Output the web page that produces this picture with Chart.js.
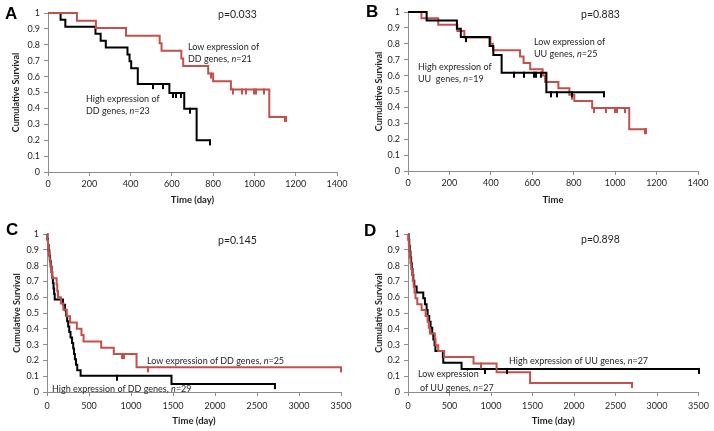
<!DOCTYPE html>
<html>
<head>
<meta charset="utf-8">
<script src="https://cdn.jsdelivr.net/npm/chart.js@4.4.1/dist/chart.umd.min.js"></script>
<style>
  html, body { margin: 0; padding: 0; background: #fff; }
  body { width: 714px; height: 431px; position: relative; overflow: hidden; font-family: Lato, "Open Sans", sans-serif; }
  canvas { position: absolute; }
  .t { position: absolute; white-space: nowrap; color: #1f1f1f; font-family: Lato, sans-serif; font-size: 9px; line-height: 11px; }
  .p { font-size: 10.5px; line-height: 12px; }
  .L { position: absolute; font-family: "Liberation Sans", Arial, sans-serif; font-weight: bold; font-size: 17px; line-height: 17px; color: #000; }
</style>
</head>
<body>
<canvas id="cA" width="357" height="215" style="left:0;top:0"></canvas>
<canvas id="cB" width="357" height="215" style="left:357px;top:0"></canvas>
<canvas id="cC" width="357" height="216" style="left:0;top:215px"></canvas>
<canvas id="cD" width="357" height="216" style="left:357px;top:215px"></canvas>

<div class="L" style="left:5px;top:5px">A</div>
<div class="L" style="left:366px;top:3px">B</div>
<div class="L" style="left:6px;top:221px">C</div>
<div class="L" style="left:364px;top:222px">D</div>

<div class="t p" style="left:218px;top:8px">p=0.033</div>
<div class="t" style="left:188px;top:41px">Low expression of</div>
<div class="t" style="left:188px;top:53px">DD genes, <i>n</i>=21</div>
<div class="t" style="left:86px;top:93px">High expression of</div>
<div class="t" style="left:86px;top:105px">DD genes, <i>n</i>=23</div>

<div class="t p" style="left:581px;top:8px">p=0.883</div>
<div class="t" style="left:534px;top:36px">Low expression of</div>
<div class="t" style="left:534px;top:48px">UU genes, <i>n</i>=25</div>
<div class="t" style="left:418px;top:61px">High expression of</div>
<div class="t" style="left:418px;top:73px">UU&nbsp; genes, <i>n</i>=19</div>

<div class="t p" style="left:218px;top:234px">p=0.145</div>
<div class="t" style="left:147px;top:355px">Low expression of DD genes, <i>n</i>=25</div>
<div class="t" style="left:52px;top:383px">High expression of DD genes, <i>n</i>=29</div>

<div class="t p" style="left:581px;top:233px">p=0.898</div>
<div class="t" style="left:509px;top:355px">High expression of UU genes, <i>n</i>=27</div>
<div class="t" style="left:418px;top:368px">Low expression</div>
<div class="t" style="left:420px;top:382px">of UU genes, <i>n</i>=27</div>

<script>
// ---------- DATA ----------
// Panel A : DD genes
const A_high_t = [0, 61, 84, 230, 255, 280, 385, 395, 403, 435, 588, 660, 720, 787];
const A_high_s = [1, 0.957, 0.913, 0.870, 0.826, 0.783, 0.739, 0.696, 0.652, 0.553, 0.497, 0.398, 0.199, 0.199];
const A_high_cens_t = [510, 557, 605, 622, 645, 688, 787];
const A_high_cens_s = [0.553, 0.553, 0.497, 0.497, 0.497, 0.398, 0.199];
const A_low_t = [0, 140, 232, 378, 541, 550, 646, 655, 776, 800, 886, 1072, 1155];
const A_low_s = [1, 0.952, 0.905, 0.857, 0.810, 0.762, 0.714, 0.667, 0.619, 0.571, 0.519, 0.346, 0.346];
const A_low_cens_t = [790, 898, 942, 958, 1000, 1010, 1047, 1148, 1155];
const A_low_cens_s = [0.619, 0.519, 0.519, 0.519, 0.519, 0.519, 0.519, 0.346, 0.346];

// Panel B : UU genes
const B_high_t = [0, 90, 236, 255, 394, 412, 452, 668, 947];
const B_high_s = [1, 0.947, 0.895, 0.842, 0.786, 0.730, 0.618, 0.495, 0.495];
const B_high_cens_t = [282, 513, 561, 610, 617, 640, 692, 721, 794, 947];
const B_high_cens_s = [0.842, 0.618, 0.618, 0.618, 0.618, 0.618, 0.495, 0.495, 0.495, 0.495];
const B_low_t = [0, 65, 146, 238, 272, 398, 410, 541, 558, 590, 650, 662, 726, 779, 803, 889, 1068, 1151];
const B_low_s = [1, 0.96, 0.92, 0.88, 0.84, 0.80, 0.76, 0.72, 0.68, 0.64, 0.60, 0.56, 0.52, 0.48, 0.44, 0.396, 0.263, 0.263];
const B_low_cens_t = [791, 900, 958, 1000, 1008, 1046, 1146, 1151];
const B_low_cens_s = [0.48, 0.396, 0.396, 0.396, 0.396, 0.396, 0.263, 0.263];

// Panel C : DD genes (long follow-up)
const C_high_t = [0, 5, 12, 20, 28, 36, 45, 55, 62, 70, 78, 85, 92, 190, 215, 228, 240, 252, 265, 280, 298, 312, 322, 332, 345, 360, 400, 1482, 2717];
const C_high_s = [1, 0.966, 0.931, 0.897, 0.862, 0.828, 0.793, 0.759, 0.724, 0.690, 0.655, 0.621, 0.586, 0.552, 0.517, 0.483, 0.448, 0.414, 0.379, 0.345, 0.310, 0.276, 0.241, 0.207, 0.172, 0.138, 0.103, 0.050, 0.050];
const C_high_cens_t = [835, 2717];
const C_high_cens_s = [0.103, 0.050];
const C_low_t = [0, 5, 12, 20, 30, 40, 50, 62, 115, 122, 131, 165, 195, 235, 275, 355, 410, 435, 645, 795, 1066, 3500];
const C_low_s = [1, 0.96, 0.92, 0.88, 0.84, 0.80, 0.76, 0.72, 0.68, 0.64, 0.60, 0.56, 0.52, 0.48, 0.44, 0.40, 0.36, 0.32, 0.28, 0.24, 0.156, 0.156];
const C_low_cens_t = [887, 915, 1203, 3497];
const C_low_cens_s = [0.24, 0.24, 0.156, 0.156];

// Panel D : UU genes (long follow-up)
const D_high_t = [0, 8, 15, 22, 30, 38, 46, 55, 64, 76, 104, 184, 204, 224, 236, 256, 272, 292, 305, 320, 330, 420, 425, 645, 3500];
const D_high_s = [1, 0.963, 0.926, 0.889, 0.852, 0.815, 0.778, 0.741, 0.704, 0.667, 0.630, 0.593, 0.556, 0.519, 0.481, 0.444, 0.407, 0.370, 0.333, 0.296, 0.259, 0.222, 0.185, 0.146, 0.146];
const D_high_cens_t = [923, 1190, 3500];
const D_high_cens_s = [0.146, 0.146, 0.146];
const D_low_t = [0, 5, 10, 16, 22, 30, 38, 48, 58, 68, 78, 90, 112, 164, 212, 236, 250, 264, 324, 332, 364, 436, 789, 1067, 1471, 2700];
const D_low_s = [1, 0.963, 0.926, 0.889, 0.852, 0.815, 0.778, 0.741, 0.704, 0.667, 0.630, 0.593, 0.556, 0.519, 0.481, 0.444, 0.407, 0.370, 0.333, 0.296, 0.259, 0.222, 0.180, 0.125, 0.057, 0.057];
const D_low_cens_t = [880, 2700];
const D_low_cens_s = [0.180, 0.057];

const yTicks = [0, 0.1, 0.2, 0.3, 0.4, 0.5, 0.6, 0.7, 0.8, 0.9, 1];

// ---------- STYLE ----------
const RED = '#c4504c';
const BLACK = '#000000';
const AXIS = '#8c8c8c';
const TXT = '#1f1f1f';
const FONT = 'Lato, "Open Sans", sans-serif';

// censor tick glyph: a short vertical stroke hanging below the curve (image centred on the point)
function tickGlyph(color) {
  const c = document.createElement('canvas');
  c.width = 2; c.height = 12;
  const g = c.getContext('2d');
  g.fillStyle = color;
  g.fillRect(0, 5, 2, 6);
  return c;
}
const TICK_RED = tickGlyph(RED);
const TICK_BLACK = tickGlyph(BLACK);

function pts(t, s) { return t.map((x, i) => ({ x: x, y: s[i] })); }

function curve(t, s, color) {
  return { type: 'line', data: pts(t, s), borderColor: color, borderWidth: 2, stepped: 'before',
           pointRadius: 0, fill: false, clip: false, order: 2 };
}
function cens(t, s, color) {
  return { type: 'scatter', data: pts(t, s), borderColor: color, backgroundColor: color,
           pointStyle: color === RED ? TICK_RED : TICK_BLACK, pointRadius: 3, showLine: false,
           clip: false, order: 1 };
}

function makePanel(id, L, lay, xmax, xstep, xtitle, datasets) {
  new Chart(document.getElementById(id), {
    data: { datasets: datasets },
    options: {
      responsive: false, animation: false, devicePixelRatio: 1,
      layout: { padding: { left: 0, top: L.top, right: L.right, bottom: 0 } },
      plugins: { legend: { display: false }, tooltip: { enabled: false } },
      scales: {
        x: {
          type: 'linear', min: 0, max: xmax,
          afterFit: s => { s.height = L.xh; },
          border: { display: true, color: AXIS, width: 1 },
          grid: { drawOnChartArea: false, drawTicks: true, tickLength: 4, color: AXIS },
          ticks: { stepSize: xstep, autoSkip: false, maxRotation: 0, padding: lay.xpad, color: TXT,
                   font: { family: FONT, size: 9 }, callback: v => String(v) },
          title: { display: true, text: xtitle, color: TXT, padding: { top: 0, bottom: lay.xtb },
                   font: { family: FONT, size: 9.5, weight: 'bold' } }
        },
        y: {
          type: 'linear', min: 0, max: 1,
          afterFit: s => { s.width = L.left; },
          afterBuildTicks: s => { s.ticks = yTicks.map(v => ({ value: v })); },
          border: { display: true, color: AXIS, width: 1 },
          grid: { drawOnChartArea: false, drawTicks: true, tickLength: 4, color: AXIS },
          ticks: { padding: 4, color: TXT, font: { family: FONT, size: 9 },
                   callback: v => String(Math.round(v * 10) / 10) },
          title: { display: true, text: 'Cumulative Survival', color: TXT, padding: { top: lay.ytp, bottom: 0 },
                   font: { family: FONT, size: 9, weight: 'bold' } }
        }
      }
    }
  });
}

makePanel('cA', { left: 48, top: 13, right: 20, xh: 43 }, { xpad: 3, xtb: 9, ytp: 11 }, 1400, 200, 'Time (day)', [
  curve(A_low_t, A_low_s, RED), curve(A_high_t, A_high_s, BLACK),
  cens(A_low_cens_t, A_low_cens_s, RED), cens(A_high_cens_t, A_high_cens_s, BLACK)
]);
makePanel('cB', { left: 51, top: 12, right: 16, xh: 44 }, { xpad: 3, xtb: 9.5, ytp: 16.5 }, 1400, 200, 'Time', [
  curve(B_high_t, B_high_s, BLACK), curve(B_low_t, B_low_s, RED),
  cens(B_high_cens_t, B_high_cens_s, BLACK), cens(B_low_cens_t, B_low_cens_s, RED)
]);
makePanel('cC', { left: 47, top: 19, right: 16, xh: 39 }, { xpad: 5, xtb: 4.5, ytp: 11.5 }, 3500, 500, 'Time (day)', [
  curve(C_low_t, C_low_s, RED), curve(C_high_t, C_high_s, BLACK),
  cens(C_low_cens_t, C_low_cens_s, RED), cens(C_high_cens_t, C_high_cens_s, BLACK)
]);
makePanel('cD', { left: 51, top: 19, right: 14, xh: 39 }, { xpad: 5, xtb: 4.5, ytp: 16.5 }, 3500, 500, 'Time (day)', [
  curve(D_low_t, D_low_s, RED), curve(D_high_t, D_high_s, BLACK),
  cens(D_low_cens_t, D_low_cens_s, RED), cens(D_high_cens_t, D_high_cens_s, BLACK)
]);
</script>
</body>
</html>
